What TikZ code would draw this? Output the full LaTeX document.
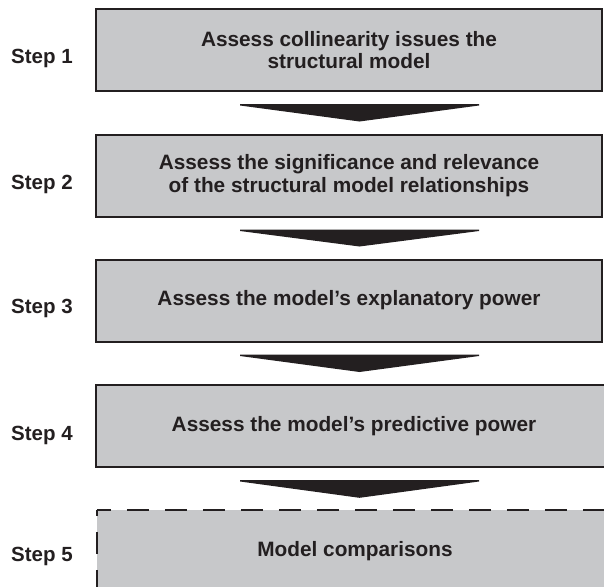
\documentclass[tikz,border=0pt]{standalone}
\usepackage{fontspec}
\setmainfont{Liberation Sans}
\usetikzlibrary{calc}
\definecolor{ink}{HTML}{231F20}
\definecolor{boxgray}{HTML}{C7C8CA}
\begin{document}
\begin{tikzpicture}[x=1pt,y=-1pt,
  txt/.style={font=\bfseries\fontsize{20.8}{22.7}\selectfont, text=ink},
  stepbox/.style={txt, draw=ink, line width=2pt, fill=boxgray, inner sep=0pt,
    minimum height=82pt, minimum width=506pt, align=center},
  openbox/.style={txt, fill=boxgray, inner sep=0pt, minimum height=82pt,
    minimum width=516pt, align=center},
  steplabel/.style={font=\bfseries\fontsize{20.5}{22.7}\selectfont, text=ink,
    anchor=base west, inner sep=0pt},
  flowarrow/.style={fill=ink},
  dashedge/.style={draw=ink, line width=2pt, dash pattern=on 22pt off 16pt}]
\useasboundingbox (0,0) rectangle (604,586);
\clip (0,0) rectangle (604,586);

% process boxes
\node[stepbox] (b1) at (349,50) {Assess collinearity issues the\\structural model};
\node[stepbox] (b2) at (349,175.5) {Assess the significance and relevance\\of the structural model relationships};
\node[stepbox] (b3) at (349,300.5) {Assess the model’s explanatory power};
\node[stepbox, minimum width=516pt] (b4) at (354,426) {Assess the model’s predictive power};
\node[openbox] (b5) at (355,551) {Model comparisons};
\fill[boxgray] (b5.south west) rectangle (b5.east |- 0,590);
\draw[dashedge, dash phase=8pt] (b5.north west) -- (b5.north east);
\draw[dashedge, dash phase=16pt] (b5.north west) -- (b5.west |- 0,590);

% step labels
\node[steplabel] (l1) at (11,63.3) {Step 1};
\node[steplabel] (l2) at (11,189) {Step 2};
\node[steplabel] (l3) at (11,313.5) {Step 3};
\node[steplabel] (l4) at (11,440) {Step 4};
\node[steplabel] (l5) at (11,561) {Step 5};

% wide arrowheads between consecutive boxes
\foreach \u/\v in {b1/b2, b2/b3, b3/b4, b4/b5}{
  \fill[flowarrow]
    ($(\u.south -| b1.south)+(-109,12)$) -- ++(239,0) -- ++(0,1.5)
    -- ($(\v.north -| b1.north)+(10.5,-12)$)
    -- ($(\u.south -| b1.south)+(-109,13.5)$) -- cycle;
}
\end{tikzpicture}
\end{document}
